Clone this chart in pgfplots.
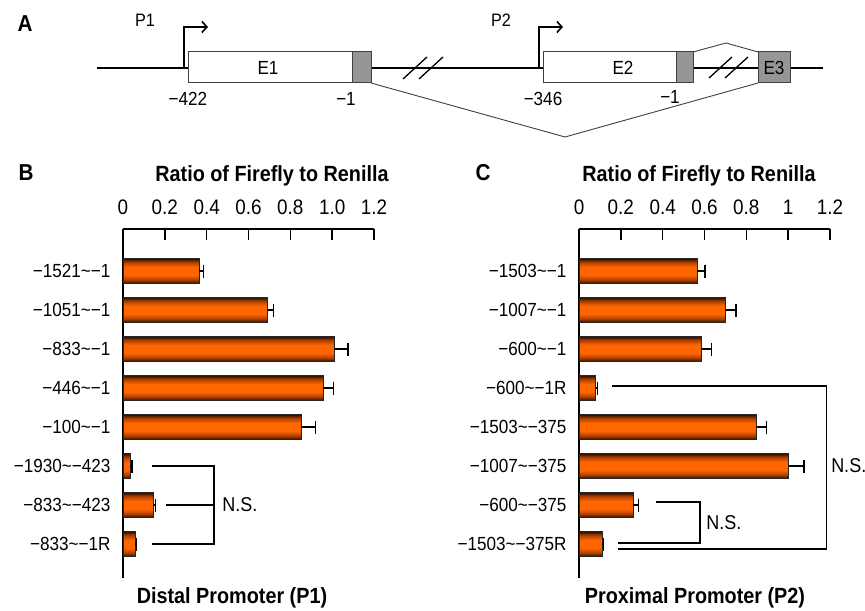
\documentclass[border=0pt]{standalone}
\usepackage{fontspec}
\setmainfont{Liberation Sans}[FakeStretch=0.9]
\usepackage{pgfplots}
\pgfplotsset{compat=1.18}
\usetikzlibrary{arrows.meta}
\definecolor{bdk}{RGB}{40,12,0}
\definecolor{bmid}{RGB}{170,62,0}
\definecolor{bor}{RGB}{255,102,0}
\definecolor{exgray}{RGB}{150,150,150}
\pgfdeclareverticalshading{barshade}{100bp}{color(0bp)=(bdk); color(25bp)=(bdk); color(32bp)=(bmid); color(42bp)=(bor); color(58bp)=(bor); color(68bp)=(bmid); color(75bp)=(bdk); color(100bp)=(bdk)}
\newcommand{\tl}{\textasciitilde}
\newcommand{\fs}[1]{\fontsize{#1bp}{#1bp}\selectfont}
\pgfplotsset{
 barax/.style={scale only axis, width=251bp, height=349bp, xmin=0, xmax=1.2, ymin=0.13, ymax=9.077,
   axis x line*=top, axis y line*=left, axis line style={line width=1.4bp, black},
   xtick={0,0.2,0.4,0.6,0.8,1,1.2}, xtick align=inside, major tick length=11bp,
   xtick style={line width=1.4bp, black}, ytick={1,...,8}, ytick style={draw=none},
   xticklabel style={font=\fs{21}, inner sep=0pt, yshift=14bp},
   yticklabel style={font=\fs{19}, xshift=-9bp}, clip=false},
 bars/.style={xbar, bar width=0.64, bar shift=0pt, draw=black!85, line width=0.5bp, shade, shading=barshade, forget plot},
 errs/.style={draw=none, mark=none, forget plot},
 errbar/.style={error bars/x dir=plus, error bars/x explicit,
   error bars/error bar style={line width=1.3bp, black, solid},
   error bars/error mark options={rotate=90, line width=1.3bp, black, mark size=6.5bp}},
}
\begin{document}
\begin{tikzpicture}
% ---------- overlay: panel A schematic and texts ----------
\begin{axis}[at={(0,0)}, anchor=south west, scale only axis, width=865bp, height=611bp,
  xmin=0, xmax=865, ymin=0, ymax=611, y dir=reverse, hide axis, clip=false]
 \draw[line width=1.5bp] (97,68) -- (823,68);
 % splice lines
 \draw[line width=0.9bp, black!75] (371,83) -- (565,137) -- (758,83);
 \draw[line width=0.9bp, black!75] (693,52) -- (726,43) -- (758,52);
 % exons
 \draw[fill=white, draw=black!75, line width=1bp] (188,52) rectangle (371,83);
 \draw[fill=exgray, draw=black!75, line width=1bp] (352,52) rectangle (371,83);
 \draw[fill=white, draw=black!75, line width=1bp] (543,52) rectangle (693,83);
 \draw[fill=exgray, draw=black!75, line width=1bp] (676,52) rectangle (693,83);
 \draw[fill=exgray, draw=black!75, line width=1bp] (758,52) rectangle (790,83);
 \node[font=\fs{19}, anchor=base] at (268,75) {E1};
 \node[font=\fs{19}, anchor=base] at (623,75) {E2};
 \node[font=\fs{19}, anchor=base] at (774,75) {E3};
 % breaks
 \draw[line width=1.3bp] (403,79) -- (427,57) (419,79) -- (443,57);
 \draw[line width=1.3bp] (709,78) -- (732,57) (725,78) -- (748,57);
 % promoters
 \draw[line width=1.6bp, -{Straight Barb[length=5bp,width=11bp]}] (184,68) -- (184,27) -- (208,27);
 \draw[line width=1.6bp, -{Straight Barb[length=5bp,width=11bp]}] (539,68) -- (539,27) -- (563,27);
 \node[font=\fs{18}, anchor=base] at (145,27) {P1};
 \node[font=\fs{18}, anchor=base] at (501,27) {P2};
 \node[font=\fs{19}, anchor=base] at (188,106) {−422};
 \node[font=\fs{19}, anchor=base] at (346,106) {−1};
 \node[font=\fs{19}, anchor=base] at (543,106) {−346};
 \node[font=\fs{19}, anchor=base] at (670,104) {−1};
 % panel letters and titles
 \node[font=\fs{23}\bfseries, anchor=base] at (25,32) {A};
 \node[font=\fs{23}\bfseries, anchor=base] at (26,180) {B};
 \node[font=\fs{23}\bfseries, anchor=base] at (483,180) {C};
 \node[font=\fs{22}\bfseries, anchor=base] at (272,181) {Ratio of Firefly to Renilla};
 \node[font=\fs{22}\bfseries, anchor=base] at (699,181) {Ratio of Firefly to Renilla};
 \node[font=\fs{22}\bfseries, anchor=base] at (232,603) {Distal Promoter (P1)};
 \node[font=\fs{22}\bfseries, anchor=base] at (695,603) {Proximal Promoter (P2)};
\end{axis}
% ---------- panel B ----------
\begin{axis}[barax, at={(123bp,382bp)}, anchor=north west,
  xticklabels={0,0.2,0.4,0.6,0.8,1.0,1.2},
  yticklabels={−833\tl−1R,−833\tl−423,−1930\tl−423,−100\tl−1,−446\tl−1,−833\tl−1,−1051\tl−1,−1521\tl−1}]
 \addplot[bars] coordinates {(0.365,8)};
 \addplot[bars] coordinates {(0.69,7)};
 \addplot[bars] coordinates {(1.01,6)};
 \addplot[bars] coordinates {(0.957,5)};
 \addplot[bars] coordinates {(0.85,4)};
 \addplot[bars] coordinates {(0.035,3)};
 \addplot[bars] coordinates {(0.145,2)};
 \addplot[bars] coordinates {(0.058,1)};
 \addplot[errs, errbar]
   coordinates {(0.365,8) +- (0.02,0) (0.69,7) +- (0.03,0) (1.01,6) +- (0.065,0) (0.957,5) +- (0.05,0)
                (0.85,4) +- (0.07,0) (0.035,3) +- (0.008,0) (0.145,2) +- (0.01,0) (0.058,1) +- (0.005,0)};
 \draw[line width=1.3bp] (0.139,3) -- (0.435,3) -- (0.435,1) -- (0.139,1);
 \draw[line width=1.3bp] (0.206,2) -- (0.435,2);
 \node[font=\fs{20}, anchor=west, inner sep=0pt] at (0.474,2) {N.S.};
\end{axis}
% ---------- panel C ----------
\begin{axis}[barax, at={(579bp,382bp)}, anchor=north west,
  xticklabels={0,0.2,0.4,0.6,0.8,1,1.2},
  yticklabels={−1503\tl−375R,−600\tl−375,−1007\tl−375,−1503\tl−375,−600\tl−1R,−600\tl−1,−1007\tl−1,−1503\tl−1}]
 \addplot[bars] coordinates {(0.563,8)};
 \addplot[bars] coordinates {(0.70,7)};
 \addplot[bars] coordinates {(0.584,6)};
 \addplot[bars] coordinates {(0.08,5)};
 \addplot[bars] coordinates {(0.847,4)};
 \addplot[bars] coordinates {(1.0,3)};
 \addplot[bars] coordinates {(0.26,2)};
 \addplot[bars] coordinates {(0.11,1)};
 \addplot[errs, errbar]
   coordinates {(0.563,8) +- (0.04,0) (0.70,7) +- (0.05,0) (0.584,6) +- (0.05,0) (0.08,5) +- (0.01,0)
                (0.847,4) +- (0.05,0) (1.0,3) +- (0.075,0) (0.26,2) +- (0.025,0) (0.11,1) +- (0.007,0)};
 \draw[line width=1.3bp] (0.158,5.05) -- (1.182,5.05) -- (1.182,0.87) -- (0.187,0.87);
 \draw[line width=1.3bp] (0.368,2.08) -- (0.579,2.08) -- (0.579,1.03) -- (0.187,1.03);
 \node[font=\fs{20}, anchor=west, inner sep=0pt] at (0.608,1.54) {N.S.};
 \node[font=\fs{20}, anchor=west, inner sep=0pt] at (1.205,3) {N.S.};
\end{axis}
\pgfresetboundingbox
\path (0,0) rectangle (865bp,611bp);
\end{tikzpicture}
\end{document}
